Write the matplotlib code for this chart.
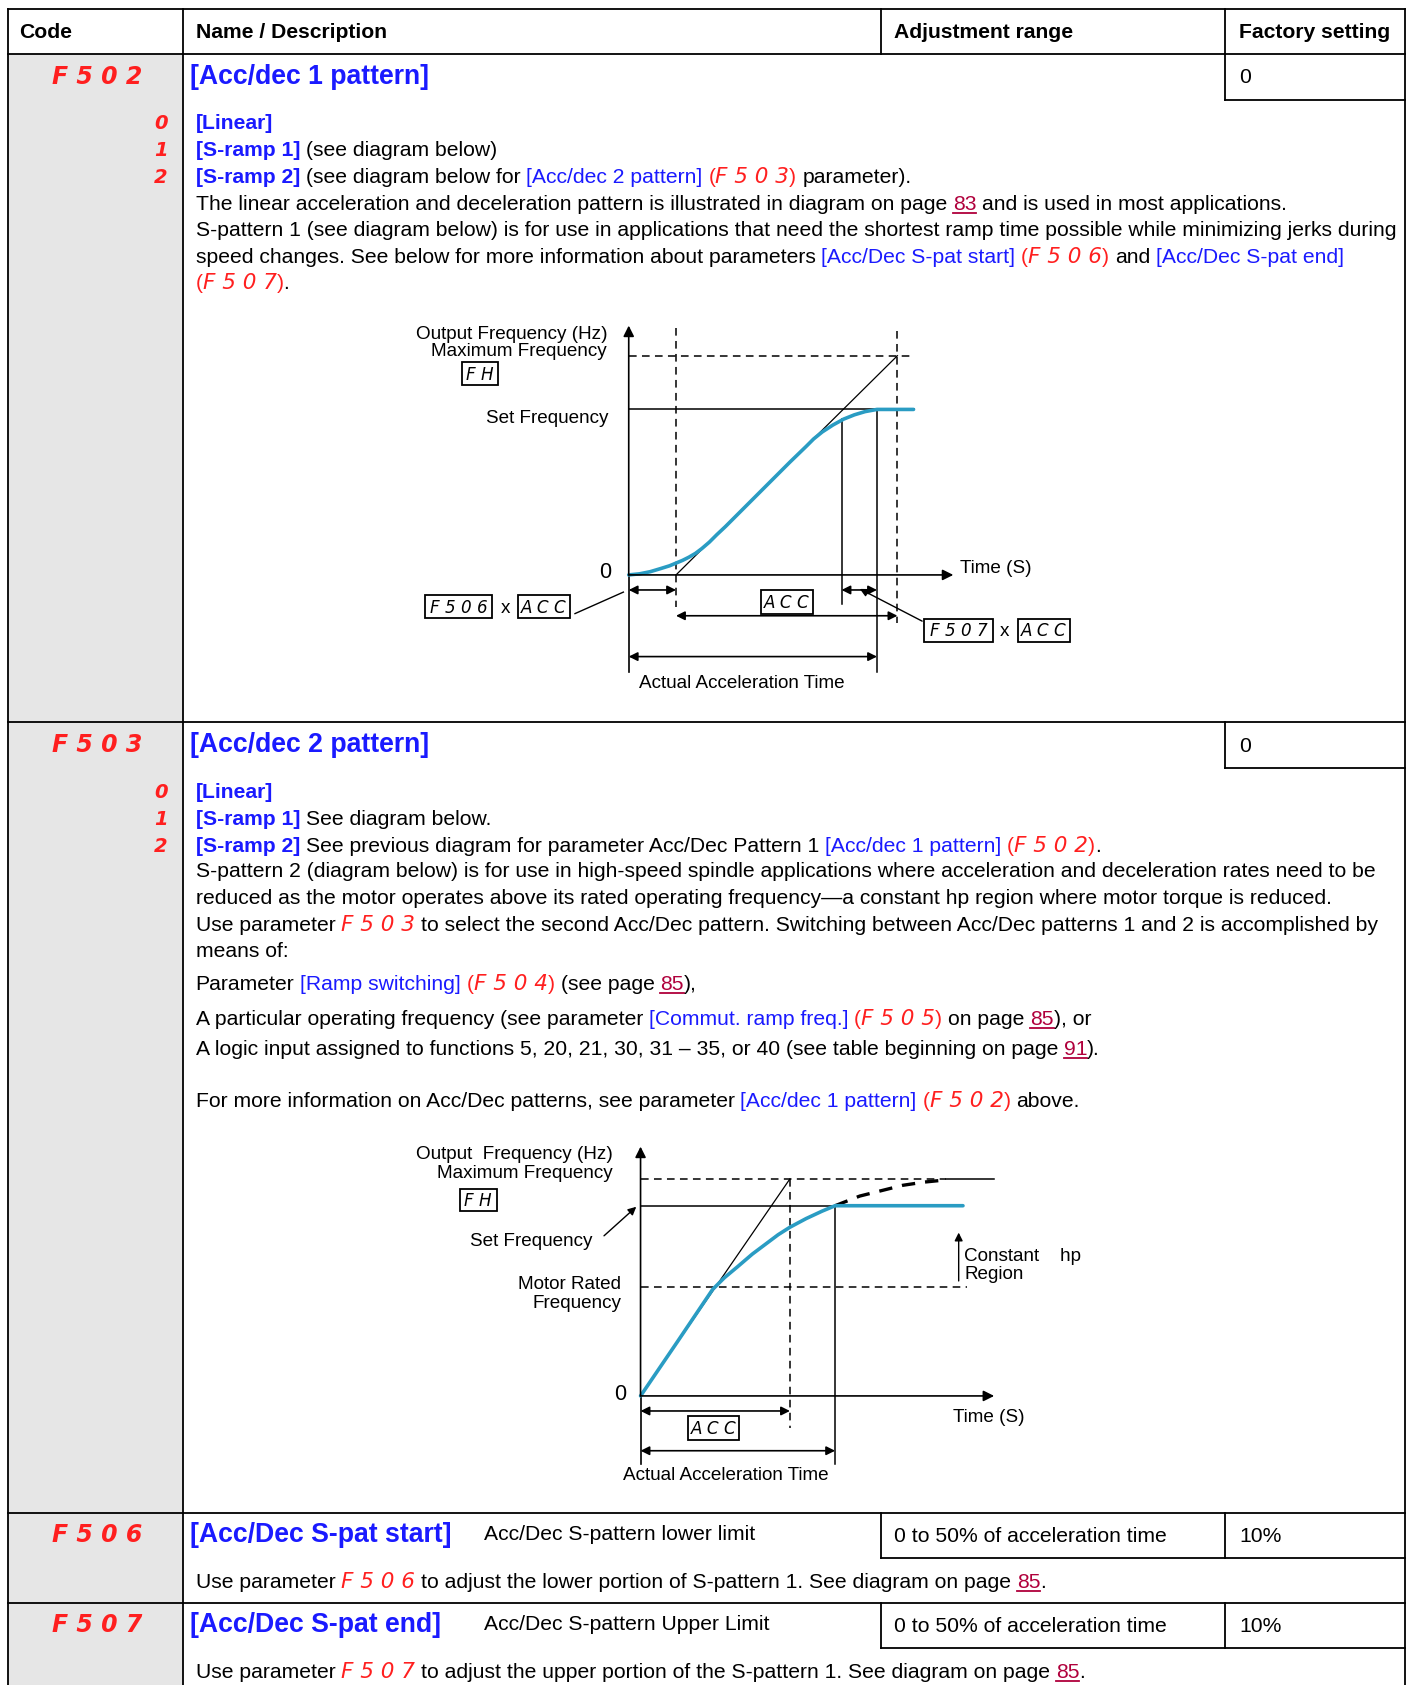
import matplotlib
matplotlib.use("Agg")
import matplotlib.pyplot as plt
from matplotlib.transforms import Affine2D
from matplotlib.patches import Rectangle

# reference page is laid out in 1311 x 1568 units, saved at 1409 x 1685 px
W, H = 1409, 1685
RW, RH = 1311, 1568
S = W / RW

plt.rcParams['font.family'] = ['Liberation Sans', 'DejaVu Sans']

BLUE = '#1a1aff'
RED = '#ff1f1f'
LINK = '#b0003c'
TEAL = '#2a9cc3'
GRAY = '#e6e6e6'

BODY = 15.2
TITLE = 19.2
DIAG = 13.6

# ---- diagram 1 data (S-pattern 1), time / frequency in drawing units ----
d1_t_s_start = 44       # F506 x ACC
d1_t_s_end = 198        # start of upper S portion
d1_t_actual = 231       # actual acceleration time
d1_t_acc = 250          # ACC end
d1_f_set = 154
d1_f_max = 204
d1_curve_t = [0, 10, 20, 30, 38, 44, 50, 56, 62, 68, 75, 82, 90, 105, 120, 135, 150, 165, 172,
              180, 190, 200, 210, 220, 231, 265]
d1_curve_f = [0, 1, 3, 6, 8.5, 11, 13.5, 16.5, 20, 24.5, 30.5, 37.5, 45, 60, 75, 90, 105, 119.5, 126.5,
              133, 139.5, 145, 149, 152, 154, 154]

# ---- diagram 2 data (S-pattern 2) ----
d2_t_acc = 139
d2_t_actual = 181
d2_f_max = 202
d2_f_set = 177
d2_f_motor = 101
d2_curve_t = [0, 34, 67, 78, 90, 104, 116, 128, 139, 154, 169, 181, 300]
d2_curve_f = [0, 50, 99, 110, 120, 132, 141, 150, 157, 165, 172, 177, 177]
d2_ext_t = [181, 204, 224, 244, 264, 284]
d2_ext_f = [177, 186, 191, 196, 199, 201]

# ---- table ----
header = ["Code", "Name / Description", "Adjustment range", "Factory setting"]
col_x = [7, 170, 820, 1140, 1307]
row_y = [8, 50, 672, 1408, 1492, RH]

fig = plt.figure(figsize=(W / 100, H / 100), dpi=100)
ax = fig.add_axes([0, 0, 1, 1])
ax.set_xlim(0, RW)
ax.set_ylim(RH, 0)
ax.axis('off')
renderer = fig.canvas.get_renderer()

STY = {
    'n': dict(color='black'),
    'b': dict(color=BLUE, fontweight='bold'),
    'l': dict(color=BLUE),
    'r': dict(color=RED),
    'c': dict(color=RED, family=['DejaVu Sans'], style='italic'),
    'u': dict(color=LINK),
}


def width(s, fs, **kw):
    t = ax.text(0, 0, s, fontsize=fs, **kw)
    w = t.get_window_extent(renderer).width / S
    t.remove()
    return w


def run(x, y, parts, size=BODY):
    y = y + 0.42 * size
    for txt, k in parts:
        kw = dict(STY[k])
        fs = size * 1.02 if k == 'c' else size
        core = txt.strip(' ')
        lead = len(txt) - len(txt.lstrip(' '))
        trail = len(txt) - len(txt.rstrip(' '))
        sp = width('a a', fs, **kw) - width('aa', fs, **kw)
        x += lead * sp
        if core:
            t = ax.text(x, y, core, fontsize=fs, va='baseline', ha='left', **kw)
            w = t.get_window_extent(renderer).width / S
            if k == 'u':
                ax.plot([x, x + w], [y + 3, y + 3], color=LINK, lw=1.3)
            x += w
        x += trail * sp
    return x


def code(s):
    return [(' (', 'r'), (s, 'c'), (') ', 'r')]


# gray code column and table rules
ax.add_patch(Rectangle((col_x[0], row_y[1]), col_x[1] - col_x[0], RH - row_y[1], fc=GRAY, ec='none'))
LW = 1.3
for y in row_y[:-1]:
    ax.plot([col_x[0], col_x[-1]], [y, y], color='black', lw=LW)
for x in (col_x[0], col_x[1], col_x[-1]):
    ax.plot([x, x], [row_y[0], RH], color='black', lw=LW)
for x in (col_x[2], col_x[3]):
    ax.plot([x, x], [row_y[0], row_y[1]], color='black', lw=LW)
for y0 in (row_y[1], row_y[2]):
    ax.plot([col_x[3], col_x[3]], [y0, y0 + 43], color='black', lw=LW)
    ax.plot([col_x[3], col_x[4]], [y0 + 43, y0 + 43], color='black', lw=LW)
for y0 in (row_y[3], row_y[4]):
    for x in (col_x[2], col_x[3]):
        ax.plot([x, x], [y0, y0 + 42], color='black', lw=LW)
    ax.plot([col_x[2], col_x[4]], [y0 + 42, y0 + 42], color='black', lw=LW)

for x, h in zip([18, 182, 832, 1153], header):
    ax.text(x, 30, h, fontsize=BODY, fontweight='bold', va='center', ha='left')


def big_code(y, s):
    ax.text(48, y + 8, s, fontsize=17, color=RED, family=['DejaVu Sans'], style='italic',
            fontweight='bold', va='baseline', ha='left')


def small_code(y, s):
    ax.text(156, y + 6.5, s, fontsize=14, color=RED, family=['DejaVu Sans'], style='italic',
            fontweight='bold', va='baseline', ha='right')


# ---- row F502 ----
big_code(70, 'F 5 0 2')
run(177, 70, [('[Acc/dec 1 pattern]', 'b')], TITLE)
ax.text(1153, 72, '0', fontsize=BODY, va='center')
for y, c in zip([114, 139, 164], ['0', '1', '2']):
    small_code(y, c)
run(182, 114, [('[Linear]', 'b')])
run(182, 139, [('[S-ramp 1] ', 'b'), ('(see diagram below)', 'n')])
run(182, 164, [('[S-ramp 2] ', 'b'), ('(see diagram below for ', 'n'), ('[Acc/dec 2 pattern]', 'l')]
    + code('F 5 0 3') + [('parameter).', 'n')])
run(182, 189, [('The linear acceleration and deceleration pattern is illustrated in diagram on page ', 'n'),
               ('83', 'u'), (' and is used in most applications.', 'n')])
run(182, 213, [('S-pattern 1 (see diagram below) is for use in applications that need the shortest ramp time '
                'possible while minimizing jerks during', 'n')])
run(182, 238, [('speed changes. See below for more information about parameters ', 'n'),
               ('[Acc/Dec S-pat start]', 'l')] + code('F 5 0 6') + [('and ', 'n'), ('[Acc/Dec S-pat end]', 'l')])
run(182, 263, [('(', 'r'), ('F 5 0 7', 'c'), (')', 'r'), ('.', 'n')])


def box(x0, y0, x1, y1, s, fs=DIAG - 1.5):
    ax.add_patch(Rectangle((x0, y0), x1 - x0, y1 - y0, fc='white', ec='black', lw=1.3))
    ax.text((x0 + x1) / 2, (y0 + y1) / 2 + 1, s, fontsize=fs, family=['DejaVu Sans'], style='italic',
            va='center', ha='center', color='black')


def darrow(tr, t0, t1, f, style='<|-|>'):
    ax.annotate('', xy=(t1, f), xytext=(t0, f), xycoords=tr, textcoords=tr,
                arrowprops=dict(arrowstyle=style, color='black', lw=1.2, shrinkA=0, shrinkB=0,
                                mutation_scale=13))


def axis_arrow(tr, x1, y1, x0=0, y0=0):
    ax.annotate('', xy=(x1, y1), xytext=(x0, y0), xycoords=tr, textcoords=tr,
                arrowprops=dict(arrowstyle='-|>', color='black', lw=1.2, shrinkA=0, shrinkB=0,
                                mutation_scale=16))


DASH = (0, (5, 3.5))

# ---- diagram 1 ----
tr1 = Affine2D().scale(1, -1).translate(585, 535) + ax.transData
axis_arrow(tr1, 302, 0)
axis_arrow(tr1, 0, 232)
ax.plot([0, 0], [0, -90], color='black', lw=1.2, transform=tr1)
ax.plot([0, 265], [d1_f_max, d1_f_max], color='black', lw=1.1, ls=DASH, transform=tr1)
ax.plot([0, 265], [d1_f_set, d1_f_set], color='black', lw=1.1, transform=tr1)
for t, top, bot in [(d1_t_s_start, 230, -30), (d1_t_acc, 227, -45)]:
    ax.plot([t, t], [top, bot], color='black', lw=1.1, ls=DASH, transform=tr1)
ax.plot([d1_t_s_end, d1_t_s_end], [145, -27], color='black', lw=1.1, transform=tr1)
ax.plot([d1_t_actual, d1_t_actual], [d1_f_set, -90], color='black', lw=1.1, transform=tr1)
ax.plot([d1_t_s_start, d1_t_acc], [0, d1_f_max], color='black', lw=0.9, transform=tr1)
ax.plot(d1_curve_t, d1_curve_f, color=TEAL, lw=2.6, transform=tr1, solid_capstyle='round',
        solid_joinstyle='round')
darrow(tr1, 0, d1_t_s_start, -14)
darrow(tr1, d1_t_s_end, d1_t_actual, -14)
darrow(tr1, d1_t_s_start, d1_t_acc, -38)
darrow(tr1, 0, d1_t_actual, -76)

ax.text(565, 311, 'Output Frequency (Hz)', fontsize=DIAG, ha='right', va='center')
ax.text(565, 327, 'Maximum Frequency', fontsize=DIAG, ha='right', va='center')
box(430, 337, 463, 358, 'F H')
ax.text(566, 389, 'Set Frequency', fontsize=DIAG, ha='right', va='center')
ax.text(563, 533, '0', fontsize=DIAG + 2, ha='center', va='center')
ax.text(893, 529, 'Time (S)', fontsize=DIAG, ha='left', va='center')
box(395, 554, 458, 575, 'F 5 0 6')
ax.text(470, 566, 'x', fontsize=DIAG, ha='center', va='center')
box(482, 554, 530, 575, 'A C C')
ax.plot([535, 580], [571, 551], color='black', lw=1)
box(708, 549, 756, 571, 'A C C')
box(860, 576, 924, 597, 'F 5 0 7')
ax.text(935, 588, 'x', fontsize=DIAG, ha='center', va='center')
box(947, 576, 996, 597, 'A C C')
ax.annotate('', xy=(800, 548), xytext=(858, 578),
            arrowprops=dict(arrowstyle='-|>', color='black', lw=1, shrinkA=0, shrinkB=0, mutation_scale=12))
ax.text(690, 636, 'Actual Acceleration Time', fontsize=DIAG, ha='center', va='center')

# ---- row F503 ----
big_code(692, 'F 5 0 3')
run(177, 692, [('[Acc/dec 2 pattern]', 'b')], TITLE)
ax.text(1153, 695, '0', fontsize=BODY, va='center')
for y, c in zip([736, 761, 786], ['0', '1', '2']):
    small_code(y, c)
run(182, 736, [('[Linear]', 'b')])
run(182, 761, [('[S-ramp 1] ', 'b'), ('See diagram below.', 'n')])
run(182, 786, [('[S-ramp 2] ', 'b'), ('See previous diagram for parameter Acc/Dec Pattern 1 ', 'n'),
               ('[Acc/dec 1 pattern]', 'l'), (' (', 'r'), ('F 5 0 2', 'c'), (')', 'r'), ('.', 'n')])
run(182, 810, [('S-pattern 2 (diagram below) is for use in high-speed spindle applications where acceleration '
                'and deceleration rates need to be', 'n')])
run(182, 835, [('reduced as the motor operates above its rated operating frequency\u2014a constant hp region '
                'where motor torque is reduced.', 'n')])
run(182, 860, [('Use parameter ', 'n'), ('F 5 0 3', 'c'),
               (' to select the second Acc/Dec pattern. Switching between Acc/Dec patterns 1 and 2 is '
                'accomplished by', 'n')])
run(182, 884, [('means of:', 'n')])
run(182, 915, [('Parameter ', 'n'), ('[Ramp switching]', 'l')] + code('F 5 0 4')
    + [('(see page ', 'n'), ('85', 'u'), ('),', 'n')])
run(182, 947, [('A particular operating frequency (see parameter ', 'n'), ('[Commut. ramp freq.]', 'l')]
    + code('F 5 0 5') + [('on page ', 'n'), ('85', 'u'), ('), or', 'n')])
run(182, 975, [('A logic input assigned to functions 5, 20, 21, 30, 31 \u2013 35, or 40 (see table beginning on page ', 'n'),
               ('91', 'u'), (').', 'n')])
run(182, 1024, [('For more information on Acc/Dec patterns, see parameter ', 'n'), ('[Acc/dec 1 pattern]', 'l')]
    + code('F 5 0 2') + [('above.', 'n')])

# ---- diagram 2 ----
tr2 = Affine2D().scale(1, -1).translate(596, 1299) + ax.transData
axis_arrow(tr2, 0, 232)
axis_arrow(tr2, 329, 0)
ax.plot([0, 0], [0, -63], color='black', lw=1.2, transform=tr2)
ax.plot([0, 284], [d2_f_max, d2_f_max], color='black', lw=1.1, ls=DASH, transform=tr2)
ax.plot([284, 329], [d2_f_max, d2_f_max], color='black', lw=1.1, transform=tr2)
ax.plot([0, d2_t_actual], [d2_f_set, d2_f_set], color='black', lw=1.1, transform=tr2)
ax.plot([0, 304], [d2_f_motor, d2_f_motor], color='black', lw=1.1, ls=DASH, transform=tr2)
ax.plot([d2_t_acc, d2_t_acc], [d2_f_max, -30], color='black', lw=1.1, ls=DASH, transform=tr2)
ax.plot([d2_t_actual, d2_t_actual], [d2_f_set, -63], color='black', lw=1.1, transform=tr2)
ax.plot([0, d2_t_acc], [0, d2_f_max], color='black', lw=0.9, transform=tr2)
ax.plot(d2_ext_t, d2_ext_f, color='black', lw=2.4, ls=(0, (4, 3)), transform=tr2)
ax.plot(d2_curve_t, d2_curve_f, color=TEAL, lw=2.6, transform=tr2, solid_capstyle='round',
        solid_joinstyle='round')
darrow(tr2, 0, d2_t_acc, -14)
darrow(tr2, 0, d2_t_actual, -51)

ax.text(570, 1074, 'Output  Frequency (Hz)', fontsize=DIAG, ha='right', va='center')
ax.text(570, 1092, 'Maximum Frequency', fontsize=DIAG, ha='right', va='center')
box(428, 1106, 462, 1127, 'F H')
ax.text(551, 1155, 'Set Frequency', fontsize=DIAG, ha='right', va='center')
ax.annotate('', xy=(592, 1123), xytext=(562, 1150),
            arrowprops=dict(arrowstyle='-|>', color='black', lw=1, shrinkA=0, shrinkB=0, mutation_scale=12))
ax.text(578, 1195, 'Motor Rated', fontsize=DIAG, ha='right', va='center')
ax.text(578, 1213, 'Frequency', fontsize=DIAG, ha='right', va='center')
ax.text(577, 1298, '0', fontsize=DIAG + 2, ha='center', va='center')
ax.text(887, 1319, 'Time (S)', fontsize=DIAG, ha='left', va='center')
ax.annotate('', xy=(892, 1147), xytext=(892, 1192),
            arrowprops=dict(arrowstyle='-|>', color='black', lw=1, shrinkA=0, shrinkB=0, mutation_scale=12))
ax.text(897, 1169, 'Constant    hp', fontsize=DIAG, ha='left', va='center')
ax.text(897, 1186, 'Region', fontsize=DIAG, ha='left', va='center')
box(640, 1318, 688, 1340, 'A C C')
ax.text(675, 1373, 'Actual Acceleration Time', fontsize=DIAG, ha='center', va='center')

# ---- rows F506 / F507 ----
for y0, c, title, desc, txt in [
    (1427, 'F 5 0 6', '[Acc/Dec S-pat start]', 'Acc/Dec S-pattern lower limit',
     [('Use parameter ', 'n'), ('F 5 0 6', 'c'), (' to adjust the lower portion of S-pattern 1. See diagram on page ', 'n'),
      ('85', 'u'), ('.', 'n')]),
    (1511, 'F 5 0 7', '[Acc/Dec S-pat end]', 'Acc/Dec S-pattern Upper Limit',
     [('Use parameter ', 'n'), ('F 5 0 7', 'c'),
      (' to adjust the upper portion of the S-pattern 1. See diagram on page ', 'n'), ('85', 'u'), ('.', 'n')]),
]:
    big_code(y0, c)
    run(177, y0, [(title, 'b')], TITLE)
    ax.text(450, y0 + 1, desc, fontsize=BODY, va='center')
    ax.text(832, y0 + 3, '0 to 50% of acceleration time', fontsize=BODY, va='center')
    ax.text(1153, y0 + 3, '10%', fontsize=BODY, va='center')
    run(182, y0 + 44, txt)

fig.savefig('out.png', dpi=100)
